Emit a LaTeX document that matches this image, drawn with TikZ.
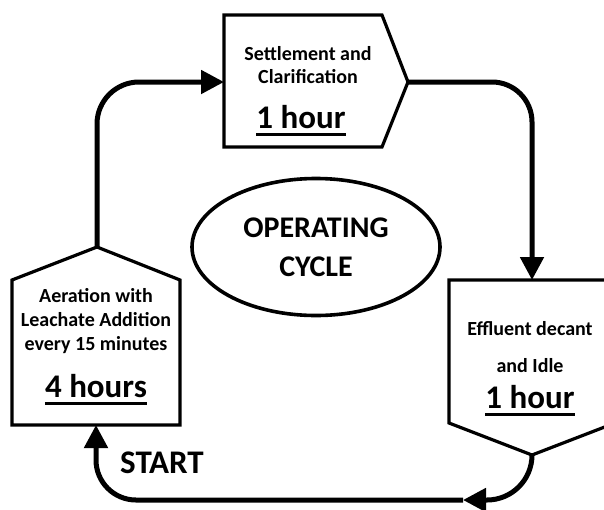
\documentclass[tikz,border=0pt]{standalone}
\usepackage{fontspec}
\setmainfont{Carlito}
\usetikzlibrary{arrows.meta,shapes.geometric}
\begin{document}
\begin{tikzpicture}[x=1pt,y=-1pt,
  box/.style={line width=3.2pt, line join=miter},
  flow/.style={line width=5pt},
  tip/.style={-{Triangle[length=23pt,width=23pt]}},
  lbl/.style={font=\bfseries\fontsize{20}{24}\selectfont, inner sep=0pt, anchor=base},
  big/.style={font=\bfseries\fontsize{33}{36}\selectfont, inner sep=0pt, anchor=base},
  uline/.style={line width=3pt},
]
\useasboundingbox (0,0) rectangle (604,509);

% Settlement box
\draw[box] (224,15) -- (382,15) -- (408,82) -- (382,147) -- (224,147) -- cycle;
\coordinate (setIn) at (224,82);
\coordinate (setOut) at (408,82);

% Aeration box
\draw[box] (12,425) -- (12,280) -- (97,247) -- (180,280) -- (180,425) -- cycle;
\coordinate (aerTop) at (97,247);
\coordinate (aerBot) at (96,425);

% Effluent box
\draw[box] (449,280) -- (615,280) -- (615,423) -- (532,455) -- (449,423) -- cycle;
\coordinate (effTop) at (532,280);
\coordinate (effBot) at (532,455);

% Operating cycle ellipse
\node[ellipse, draw, line width=3.6pt, minimum width=248pt, minimum height=137pt,
      align=center, font=\bfseries\fontsize{30}{39}\selectfont] (cyc) at (316,247) {OPERATING\\CYCLE};

% connectors
\coordinate (mid) at (463,500);
\draw[flow, tip, rounded corners=42pt] (aerTop) |- (setIn);
\draw[flow, tip, rounded corners=40pt] (setOut) -| (effTop);
\draw[flow, tip, rounded corners=45pt] (effBot) |- (mid);
\draw[flow, tip, rounded corners=40pt] (mid) -| (aerBot);

% Settlement text
\node[lbl] (s1) at (308,60) {Settlement and};
\node[lbl] (s2) at (308,83) {Clarification};
\node[big] (s3) at (301,128) {1 hour};
\draw[uline] ([yshift=-6.5pt]s3.base west) -- ([yshift=-6.5pt]s3.base east);

% Aeration text
\node[lbl] (a1) at (96,302) {Aeration with};
\node[lbl] (a2) at (96,326) {Leachate Addition};
\node[lbl] (a3) at (96,350) {every 15 minutes};
\node[big] (a4) at (96,397) {4 hours};
\draw[uline] ([yshift=-6.5pt]a4.base west) -- ([yshift=-6.5pt]a4.base east);

% Effluent text
\node[lbl] (e1) at (530,335) {Effluent decant};
\node[lbl] (e2) at (530,372) {and Idle};
\node[big] (e3) at (530,408) {1 hour};
\draw[uline] ([yshift=-6.5pt]e3.base west) -- ([yshift=-6.5pt]e3.base east);

% START
\node[big, anchor=base west] (start) at (120,473) {START};
\end{tikzpicture}
\end{document}
